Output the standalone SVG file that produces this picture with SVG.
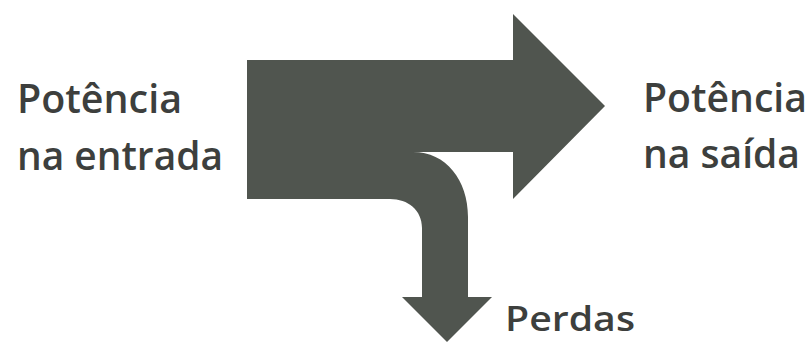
<svg xmlns="http://www.w3.org/2000/svg" width="811" height="343" viewBox="0 0 811 343">
<style>
.lbl{font-family:"Open Sans","Liberation Sans",sans-serif;font-weight:600;font-size:39px;fill:#3d3f3d}
.flow{fill:#50554f}
</style>
<rect width="811" height="343" fill="#ffffff"/>
<g id="flow">
<path class="flow" d="M247,60 H513 V14 L605,106 L513,199 V152 H413 C446,152 468,180 468,217 V297 H492 L447,342 L402,297 H422 V228 C422,210 408,199 390,199 H247 Z"/>
</g>
<g id="input"><text class="lbl" x="17" y="113" textLength="165" lengthAdjust="spacingAndGlyphs">Potência</text><text class="lbl" x="17" y="170" textLength="206" lengthAdjust="spacingAndGlyphs">na entrada</text></g>
<g id="output"><text class="lbl" x="643" y="112" textLength="164" lengthAdjust="spacingAndGlyphs">Potência</text><text class="lbl" x="643" y="168" textLength="157" lengthAdjust="spacingAndGlyphs">na saída</text></g>
<g id="losses"><text class="lbl" x="505" y="331" style="font-size:35px" textLength="130" lengthAdjust="spacingAndGlyphs">Perdas</text></g>
<g id="connectors"></g>
</svg>
